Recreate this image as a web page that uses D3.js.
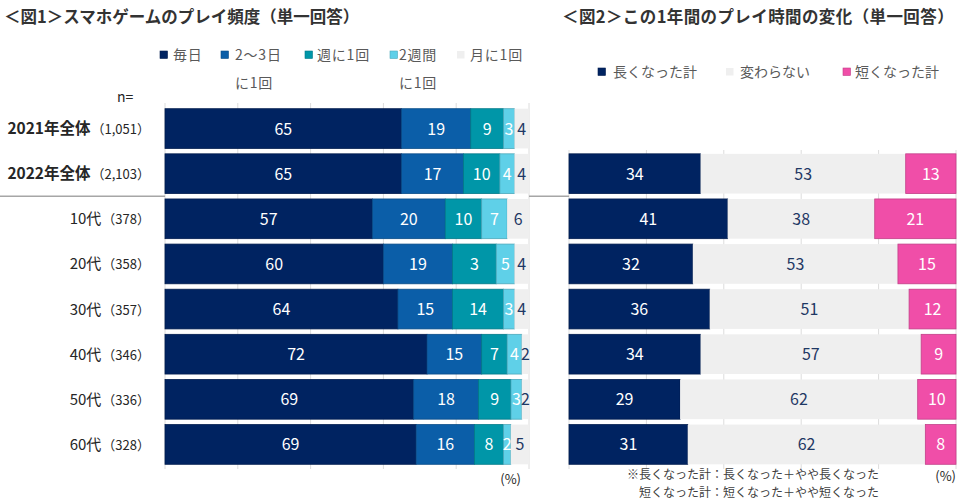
<!DOCTYPE html>
<html><head><meta charset="utf-8">
<script src="https://cdn.jsdelivr.net/npm/d3@7/dist/d3.min.js"></script>
<style>
body{margin:0;background:#fff;}
text{font-family:"Noto Sans CJK JP","Noto Sans",sans-serif;}
</style></head>
<body><svg id="c" width="960" height="504"></svg>
<script>
// ---- data ----
const categories = ["2021年全体","2022年全体","10代","20代","30代","40代","50代","60代"];
const sampleSizes = ["1,051","2,103","378","358","357","346","336","328"];
const boldCategories = ["2021年全体","2022年全体"];

const freqSeries = ["毎日","2～3日に1回","週に1回","2週間に1回","月に1回"];
// segment lengths
const freqDaily    = [65,65,57,60,64,72,69,69];
const freq2to3     = [19,17,20,19,15,15,18,16];
const freqWeekly   = [9,10,10,12,14,7,9,8];
const freq2weeks   = [3,4,7,5,3,4,3,2];
const freqMonthly  = [4,4,6,4,4,2,2,5];
// printed data labels (one printed label differs from its segment width)
const freqWeeklyLabels = ["9","10","10","3","14","7","9","8"];

const changeCategories = ["2022年全体","10代","20代","30代","40代","50代","60代"];
const changeSeries = ["長くなった計","変わらない","短くなった計"];
const changeLonger  = [34,41,32,36,34,29,31];
const changeSame    = [53,38,53,51,57,62,62];
const changeShorter = [13,21,15,12,9,10,8];

const xTicks = [0,0.2,0.4,0.6,0.8,1];

// ---- styles ----
const freqColors = ["#002361","#0b5ea8","#0096a8","#5fd0e8","#efefef"];
const changeColors = ["#002361","#efefef","#f04ea8"];
const darkLabel = "#1f3864";

const svg = d3.select("#c");

// titles
svg.append("text").attr("x",4).attr("y",23).attr("font-size",16.5).attr("font-weight","bold")
  .attr("fill","#333").text("＜図1＞スマホゲームのプレイ頻度（単一回答）");
svg.append("text").attr("x",562).attr("y",23).attr("font-size",16.5).attr("font-weight","bold")
  .attr("letter-spacing",0.4).attr("fill","#333").text("＜図2＞この1年間のプレイ時間の変化（単一回答）");

// scales (stacks are shown as shares of each row's total)
const y = d3.scaleBand().domain(categories).range([106,467]).paddingInner(0.12).paddingOuter(0.06);
const xL = d3.scaleLinear().domain([0,1]).range([165,529]).clamp(true);
const xR = d3.scaleLinear().domain([0,1]).range([569,956]).clamp(true);

// gridlines
const gL = svg.append("g");
gL.selectAll("line").data(xTicks).join("line")
  .attr("x1",d=>xL(d)).attr("x2",d=>xL(d)).attr("y1",103).attr("y2",469)
  .attr("stroke","#dcdcdc").attr("stroke-width",1);
const gR = svg.append("g");
gR.selectAll("line").data(xTicks).join("line")
  .attr("x1",d=>xR(d)).attr("x2",d=>xR(d)).attr("y1",150).attr("y2",469)
  .attr("stroke","#dcdcdc").attr("stroke-width",1);

// separator lines
const sepY = (y(categories[1]) + y.bandwidth() + y(categories[2]))/2;
svg.append("line").attr("x1",0).attr("x2",xL(0)).attr("y1",sepY).attr("y2",sepY)
  .attr("stroke","#a6a6a6").attr("stroke-width",1.5);
svg.append("line").attr("x1",xL(1)).attr("x2",xR(0)).attr("y1",sepY).attr("y2",sepY)
  .attr("stroke","#a6a6a6").attr("stroke-width",1.5);

// left chart stacked data
const freqArrays = [freqDaily,freq2to3,freqWeekly,freq2weeks,freqMonthly];
const freqRows = categories.map((c,i)=>{
  const o={cat:c, idx:i}; freqSeries.forEach((s,k)=>o[s]=freqArrays[k][i]); return o;});
const freqStack = d3.stack().keys(freqSeries).offset(d3.stackOffsetExpand)(freqRows);

freqStack.forEach((layer,k)=>{
  const g = svg.append("g");
  g.selectAll("rect").data(layer).join("rect")
    .attr("x",d=>xL(d[0])).attr("width",d=>xL(d[1])-xL(d[0]))
    .attr("y",d=>y(d.data.cat)).attr("height",y.bandwidth())
    .attr("fill",freqColors[k])
    .attr("stroke",k<4?d3.color(freqColors[k]).darker(0.6):"none").attr("stroke-width",0.8);
});
freqStack.forEach((layer,k)=>{
  const key = freqSeries[k];
  const g = svg.append("g");
  g.selectAll("text").data(layer).join("text")
    .attr("x",d=>(xL(d[0])+xL(d[1]))/2).attr("y",d=>y(d.data.cat)+y.bandwidth()/2+6)
    .attr("text-anchor","middle").attr("font-size",16)
    .attr("fill",k===4?darkLabel:"#fff")
    .text(d=>k===2?freqWeeklyLabels[d.data.idx]:d.data[key]);
});

// category labels
const lab = svg.append("g");
categories.forEach((c,i)=>{
  const bold = boldCategories.includes(c);
  const t = lab.append("text").attr("x",150).attr("y",y(c)+y.bandwidth()/2+5.5)
    .attr("text-anchor","end").attr("fill","#262626");
  t.append("tspan").attr("font-size",bold?15.5:15).attr("font-weight",bold?"bold":"normal").text(c);
  t.append("tspan").attr("font-size",13).attr("dx",1).text("（"+sampleSizes[i]+"）");
});
svg.append("text").attr("x",117).attr("y",102).attr("font-size",14).attr("fill","#262626").text("n=");

// left legend
const legL = [
  {sx:160, tx:173, lines:["毎日"]},
  {sx:221, tx:235, lines:["2～3日","に1回"]},
  {sx:305, tx:317, lines:["週に1回"]},
  {sx:390, tx:399, lines:["2週間","に1回"]},
  {sx:457, tx:470, lines:["月に1回"]}
];
legL.forEach((d,k)=>{
  svg.append("rect").attr("x",d.sx).attr("y",51).attr("width",7.5).attr("height",7.5)
    .attr("fill",freqColors[k]).attr("stroke",k<4?d3.color(freqColors[k]).darker(0.6):"none").attr("stroke-width",0.6);
  svg.append("text").attr("x",d.tx).attr("y",60).attr("font-size",14).attr("letter-spacing",0.8)
    .attr("fill","#595959").text(d.lines[0]);
  if(d.lines[1]) svg.append("text").attr("x",d.tx).attr("y",88).attr("font-size",14).attr("letter-spacing",0.8)
    .attr("fill","#595959").text(d.lines[1]);
});

// right chart
const changeArrays=[changeLonger,changeSame,changeShorter];
const changeRows = changeCategories.map((c,i)=>{
  const o={cat:c}; changeSeries.forEach((s,k)=>o[s]=changeArrays[k][i]); return o;});
const changeStack = d3.stack().keys(changeSeries).offset(d3.stackOffsetExpand)(changeRows);
changeStack.forEach((layer,k)=>{
  const g=svg.append("g");
  g.selectAll("rect").data(layer).join("rect")
    .attr("x",d=>xR(d[0])).attr("width",d=>xR(d[1])-xR(d[0]))
    .attr("y",d=>y(d.data.cat)).attr("height",y.bandwidth())
    .attr("fill",changeColors[k])
    .attr("stroke",k!==1?d3.color(changeColors[k]).darker(0.6):"none").attr("stroke-width",0.8);
});
changeStack.forEach((layer,k)=>{
  const key = changeSeries[k];
  const g=svg.append("g");
  g.selectAll("text").data(layer).join("text")
    .attr("x",d=>(xR(d[0])+xR(d[1]))/2).attr("y",d=>y(d.data.cat)+y.bandwidth()/2+6)
    .attr("text-anchor","middle").attr("font-size",16)
    .attr("fill",k===1?darkLabel:"#fff")
    .text(d=>d.data[key]);
});

// right legend
const legR=[{sx:598,tx:613},{sx:726,tx:740},{sx:843,tx:855}];
changeSeries.forEach((s,k)=>{
  svg.append("rect").attr("x",legR[k].sx).attr("y",68).attr("width",7.5).attr("height",7.5)
    .attr("fill",changeColors[k]).attr("stroke",k!==1?d3.color(changeColors[k]).darker(0.6):"none").attr("stroke-width",0.6);
  svg.append("text").attr("x",legR[k].tx).attr("y",77).attr("font-size",14).attr("fill","#595959").text(s);
});

// units and footnote
svg.append("text").attr("x",521).attr("y",484).attr("text-anchor","end").attr("font-size",13).attr("fill","#262626").text("(%)");
svg.append("text").attr("x",956).attr("y",481).attr("text-anchor","end").attr("font-size",13).attr("fill","#262626").text("(%)");
svg.append("text").attr("x",879).attr("y",479).attr("text-anchor","end").attr("font-size",12).attr("fill","#404040").text("※長くなった計：長くなった＋やや長くなった");
svg.append("text").attr("x",879).attr("y",497).attr("text-anchor","end").attr("font-size",12).attr("fill","#404040").text("短くなった計：短くなった＋やや短くなった");
</script></body></html>
